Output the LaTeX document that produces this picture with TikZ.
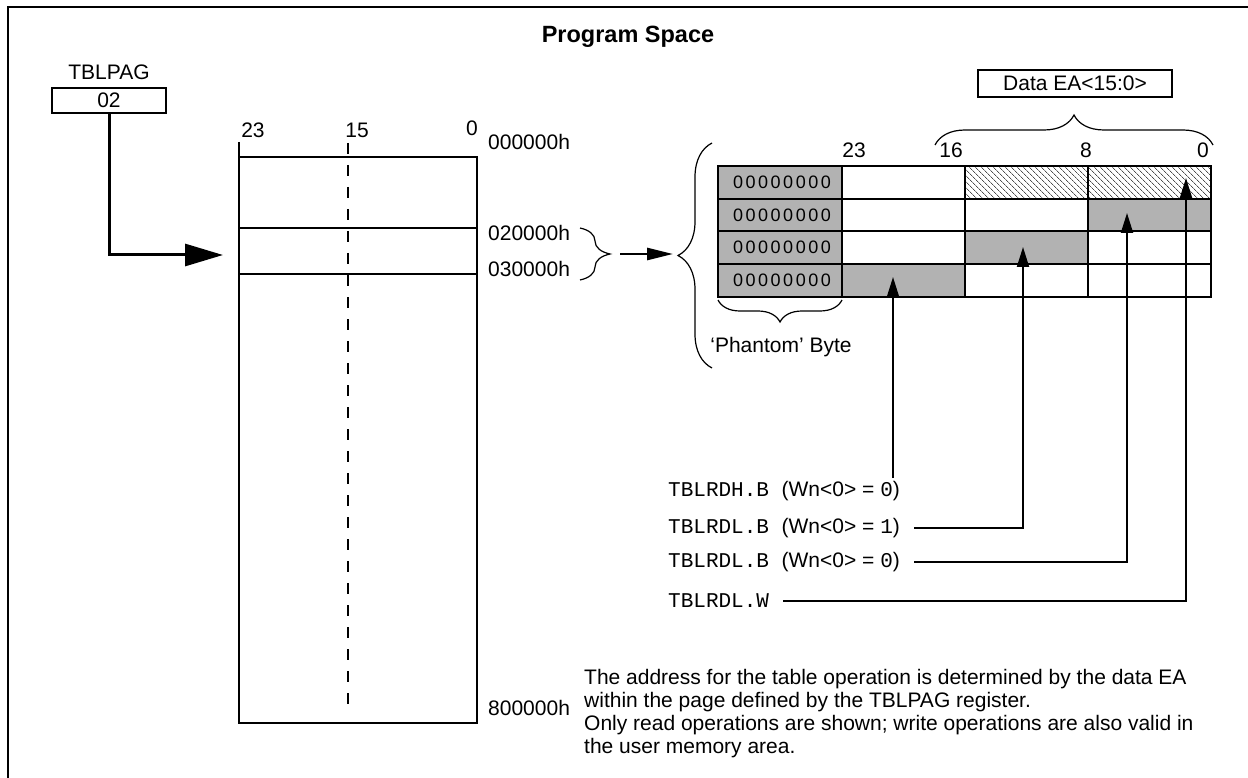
\documentclass[tikz,border=0pt]{standalone}
\usepackage{fontspec}
\setmainfont{Liberation Sans}
\setmonofont{Liberation Mono}
\newfontfamily\zerofont[LetterSpace=14]{Liberation Sans}
\usetikzlibrary{arrows.meta,decorations.pathreplacing,patterns.meta}

\begin{document}
\begin{tikzpicture}[x=1pt,y=-1pt,
    txt/.style={font=\fontsize{21}{23}\selectfont,inner sep=0pt},
    zero/.style={font=\zerofont\fontsize{18}{20}\selectfont,inner sep=0pt},
    heavy/.style={line width=2pt},
    hatch/.style={pattern={Lines[angle=-45,distance=4pt,line width=0.65pt]},pattern color=black!70},
    brc/.style={decorate,decoration={brace,amplitude=#1},line width=1.2pt},
    bigarrow/.style={line width=3pt,-{Triangle[length=38pt,width=22pt]}},
    midarrow/.style={line width=2.7pt,-{Triangle[length=26pt,width=12pt]}},
    uparrow/.style={line width=2pt,-{Triangle[length=20pt,width=12pt]}}]
    \useasboundingbox (0,0) rectangle (1248,778);
    \clip (0,0) rectangle (1248,778);
    \draw[line width=2.7pt] (8,782) -- (8,7) -- (1252,7);
    \node[font=\bfseries\fontsize{23.5}{26}\selectfont,inner sep=0pt] (title) at (628,37) {Program Space};

    \node[txt] (paglbl) at (109,72) {TBLPAG};
    \node[txt,draw,heavy,minimum width=114pt,minimum height=25pt] (pag) at (109,100.5) {02};
    \coordinate (memin) at (223,255);
    \draw[bigarrow] (pag.south) |- (memin);

    \draw[heavy] (239,142) -- (239,723) -- (477,723) -- (477,157) -- (239,157);
    \draw[heavy] (239,228) -- (477,228) (239,274) -- (477,274);
    \draw[line width=1.6pt,dash pattern=on 11pt off 11pt] (348,143) -- (348,712);
    \node[txt] (m23) at (253,130) {23};
    \node[txt] (m15) at (357,130) {15};
    \node[txt] (m0) at (472,128) {0};
    \node[txt,anchor=west] (a0) at (488,142) {000000h};
    \node[txt,anchor=west] (a2) at (488,233) {020000h};
    \node[txt,anchor=west] (a3) at (488,269) {030000h};
    \node[txt,anchor=west] (a8) at (488,708) {800000h};

    \draw[brc=30] (580,228) -- (580,280);
    \coordinate (pgout) at (620,254);
    \coordinate (pgin) at (673,254);
    \draw[midarrow] (pgout) -- (pgin);
    \draw[brc=34] (712,368) -- (712,143);

    \fill[gray!60] (718,166) rectangle (842,297);
    \fill[gray!60] (1088,199) rectangle (1211,231);
    \fill[gray!60] (965,231) rectangle (1088,264);
    \fill[gray!60] (842,264) rectangle (965,297);
    \fill[hatch] (965,166) rectangle (1211,199);
    \foreach \x in {842,965,1088} \draw[heavy] (\x,166) -- (\x,297);
    \foreach \y in {199,231,264} \draw[heavy] (718,\y) -- (1211,\y);
    \draw[heavy] (718,166) rectangle (1211,297);
    \foreach \y [count=\r] in {182.5,215,247.5,280.5}
        \node[zero] (z\r) at (782,\y) {00000000};
    \node[txt] (b23) at (854,150) {23};
    \node[txt] (b16) at (951,150) {16};
    \node[txt] (b8) at (1086,150) {8};
    \node[txt] (b0) at (1203,150) {0};

    \draw[brc=30] (935,145) -- (1213,145);
    \node[txt,draw,heavy,minimum width=194pt,minimum height=27pt] (ea) at (1075,83.5) {Data EA<15:0>};
    \draw[brc=22] (842,300) -- (718,300);
    \node[txt] (phantom) at (781,347) {‘Phantom’ Byte};

    \coordinate (tH) at (893,277);
    \coordinate (tL1) at (1023,247);
    \coordinate (tL0) at (1127,213);
    \coordinate (tW) at (1186,178);
    \node[txt,anchor=west] (rdh) at (668,491) {\texttt{TBLRDH.B }(Wn<0> = \texttt{0})};
    \node[txt,anchor=west] (rdl1) at (668,528) {\texttt{TBLRDL.B }(Wn<0> = \texttt{1})};
    \node[txt,anchor=west] (rdl0) at (668,562) {\texttt{TBLRDL.B }(Wn<0> = \texttt{0})};
    \node[txt,anchor=west] (rdw) at (668,601) {\texttt{TBLRDL.W}};
    \draw[uparrow] ([yshift=3pt]rdh.north -| tH) -- (tH);
    \draw[uparrow] ([xshift=14pt]rdl1.east) -| (tL1);
    \draw[uparrow] ([xshift=14pt]rdl0.east) -| (tL0);
    \draw[uparrow] ([xshift=14pt]rdw.east) -| (tW);

    \node[txt,anchor=north west,align=left] (note) at (584,669)
        {The address for the table operation is determined by the data EA\\
         within the page defined by the TBLPAG register.\\
         Only read operations are shown; write operations are also valid in\\
         the user memory area.};
\end{tikzpicture}
\end{document}
